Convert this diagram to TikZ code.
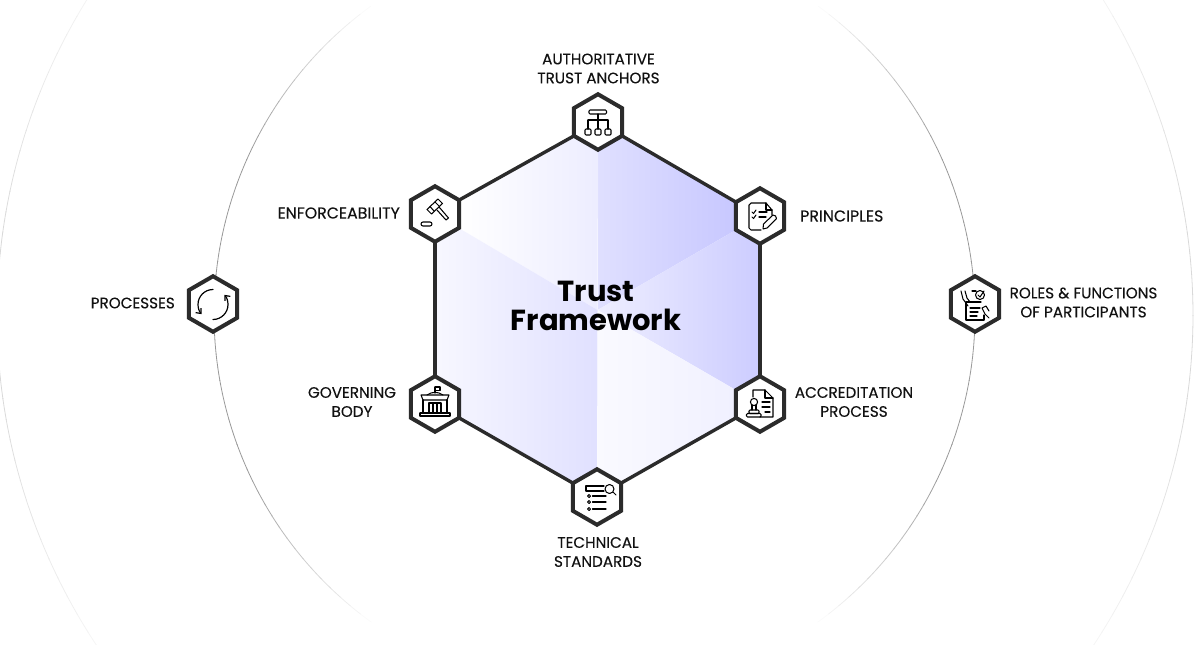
\documentclass[tikz,border=0pt]{standalone}
\usepackage{fontspec}
\setmainfont{Poppins}
\newfontfamily\lblfont{Poppins}[FakeBold=0.25]
\usetikzlibrary{shapes.geometric,arrows.meta}
\definecolor{ink}{HTML}{2B2B2B}
\definecolor{labelink}{HTML}{111111}
\tikzset{
  hexnode/.style={regular polygon,regular polygon sides=6,shape border rotate=30,minimum size=55.5pt,inner sep=0pt,outer sep=0pt,draw=ink,line width=4pt,fill=white,line join=miter},
  edgeline/.style={draw=ink,line width=3.4pt},
  lbl/.style={align=center,inner sep=0pt,text=labelink,font=\lblfont\fontsize{15.2}{19}\selectfont},
  lblwide/.style={lbl,font=\lblfont\fontsize{15.8}{19}\selectfont},
  title/.style={align=center,inner sep=0pt,text=black,font=\fontsize{29}{29.5}\selectfont\bfseries},
  ico/.style={draw=black,line width=1.05pt,line cap=round,line join=round},
}
\begin{document}
\begin{tikzpicture}[x=1pt,y=-1pt]
\useasboundingbox (0,0) rectangle (1200,645);
\clip (0,0) rectangle (1200,645);
\coordinate (pT) at (598,122);
\coordinate (pUR) at (760,216);
\coordinate (pLR) at (760,404);
\coordinate (pB) at (597,497);
\coordinate (pLL) at (435,404);
\coordinate (pUL) at (435,214);
\coordinate (pC) at (597.5,310);
\coordinate (pL) at (213,304);
\coordinate (pR) at (975,304);
% rings
\foreach \a in {-66,-64,...,64}{
  \pgfmathsetmacro{\ma}{abs(\a+1)}
  \pgfmathsetmacro{\t}{max(0,min(1,(54-\ma)/(54-26)))}
  \pgfmathsetmacro{\p}{40*\t}
  \pgfmathsetmacro{\q}{max(3,15*(1-max(0,\ma-8)/34))}
  \draw[black!\p!white,line width=.8pt] ({594.5+380.5*cos(\a)},{314+380.5*sin(\a)}) arc[start angle=\a,delta angle=2.1,radius=380.5];
  \draw[black!\p!white,line width=.8pt] ({594.5-380.5*cos(\a)},{314+380.5*sin(\a)}) arc[start angle=180-\a,delta angle=-2.1,radius=380.5];
  \draw[black!\q!white,line width=.8pt] ({595+598*cos(\a)},{315+598*sin(\a)}) arc[start angle=\a,delta angle=2.1,radius=598];
  \draw[black!\q!white,line width=.8pt] ({595-598*cos(\a)},{315+598*sin(\a)}) arc[start angle=180-\a,delta angle=-2.1,radius=598];
}
% hexagon fill
\begin{scope}
\clip (pC)--(pUL)--(pT)--cycle;
\shade[left color=white,right color=white!92!blue!90!white] (460,122) rectangle (598,310);
\end{scope}
\begin{scope}
\clip (pC)--(pT)--(pUR)--cycle;
\shade[left color=white!87!blue!95!white,right color=white!75!blue!88!white] (598,122) rectangle (740,310);
\end{scope}
\begin{scope}
\clip (pC)--(pUR)--(pLR)--cycle;
\shade[left color=white!93!blue!95!white,right color=white!78!blue!90!white] (598,216) rectangle (760,404);
\end{scope}
\begin{scope}
\clip (pC)--(pLR)--(pB)--cycle;
\shade[left color=white!98!blue,right color=white!94!blue] (598,310) rectangle (740,497);
\end{scope}
\begin{scope}
\clip (pC)--(pB)--(pLL)--(pUL)--cycle;
\shade[left color=white!97!blue,right color=white!88!blue] (435,214) rectangle (598,497);
\end{scope}
% hex nodes
\node[hexnode] (hT) at (pT) {};
\node[hexnode] (hUR) at (pUR) {};
\node[hexnode] (hLR) at (pLR) {};
\node[hexnode] (hB) at (pB) {};
\node[hexnode] (hLL) at (pLL) {};
\node[hexnode] (hUL) at (pUL) {};
\node[hexnode] (hL) at (pL) {};
\node[hexnode] (hR) at (pR) {};
% edges
\draw[edgeline] (hT.-30) -- (hUR.150);
\draw[edgeline] (hUR.-90) -- (hLR.90);
\draw[edgeline] (hLR.-150) -- (hB.30);
\draw[edgeline] (hB.150) -- (hLL.-30);
\draw[edgeline] (hLL.90) -- (hUL.-90);
\draw[edgeline] (hUL.30) -- (hT.-150);
% icon: hierarchy
\begin{scope}[shift={(pT)},ico]
\draw[rounded corners=1pt] (-9,-12) rectangle (8.5,-8);
\draw (0,-8)--(0,7) (-10,-2)--(10,-2) (-10,-2)--(-10,7) (10,-2)--(10,7);
\foreach \x in {-10,0,10}{\draw[rounded corners=1pt] (\x-3,7) rectangle (\x+3,13);}
\end{scope}
% icon: checklist + pencil
\begin{scope}[shift={(pUR)},ico]
\draw (12,-1)--(12,-6)--(6,-13)--(-9,-13) to[bend right=30] (-11,-11) --(-11,12) to[bend right=30] (-9,14)--(1,14);
\draw (6,-13)--(6,-6)--(12,-6);
\draw (-8,-4)--(-6.5,-2.5)--(-4,-6) (-8,1)--(-6.5,2.5)--(-4,-1);
\draw (-1,-4)--(7,-4) (-1,1)--(6,1);
\draw (3,13)--(3.5,8)--(13,-1) to[bend left=50] (16.5,2.5)--(7,12)--cycle;
\end{scope}
% icon: gavel
\begin{scope}[shift={(pUL)},ico]
\draw (-8,-4.5)--(3,-15)--(7.5,-10.5)--(-3.5,0)--cycle;
\draw (-5,-7.5)--(-1,-3) (0,-12)--(4.5,-7.5);
\draw (2,-4)--(11,6)--(13.5,4)--(4.5,-6.5);
\draw[rounded corners=2pt] (-14,8) rectangle (-3,12);
\end{scope}
% icon: government building
\begin{scope}[shift={(pLL)},ico]
\draw (0,-17)--(0,-11) (0,-17)--(5,-17)--(5,-13.5)--(0,-13.5);
\draw (-8,-9) to[bend left=35] (8,-9);
\draw (-14,-9)--(14,-9)--(12,-4)--(-12,-4)--cycle;
\draw (-12,-4)--(-12,9) (12,-4)--(12,9);
\draw (-6,-1) rectangle (6,9) (-2,-1)--(-2,9) (2,-1)--(2,9);
\draw (-15,9)--(15,9) (-15,12)--(15,12) (-15,9)--(-15,12) (15,9)--(15,12);
\end{scope}
% icon: stamped document
\begin{scope}[shift={(pLR)},ico]
\draw (-7,-7)--(-7,-14)--(5,-14)--(13,-6)--(13,13)--(0,13);
\draw (5,-14)--(5,-6)--(13,-6);
\draw (2,-2)--(10,-2) (2,3)--(10,3) (5,8)--(10,8);
\draw (-6,-2) circle[radius=3.6];
\draw (-8,1)--(-8,6) (-4,1)--(-4,6);
\draw[rounded corners=1pt] (-11,6) rectangle (-1,9.5);
\draw[rounded corners=1pt] (-13.5,9.5) rectangle (1,13);
\end{scope}
% icon: list + magnifier
\begin{scope}[shift={(pB)},ico]
\draw (7,-11)--(-11,-11)--(-11,-6)--(7,-6);
\draw (12.5,-8) circle[radius=4.5];
\draw (16,-5)--(19,-2);
\foreach \y in {-1,5,12}{\draw (-8,\y) circle[radius=1.5]; \draw (-4.5,\y)--(9,\y);}
\end{scope}
% icon: cycle
\begin{scope}[shift={(pL)},ico,line width=1.2pt]
\draw[-{Straight Barb[length=4pt,width=7pt]}] (0,-14.5) arc[start angle=-90,delta angle=-130,radius=15];
\draw[-{Straight Barb[length=4pt,width=7pt]}] (0,15.5) arc[start angle=90,delta angle=-130,radius=15];
\end{scope}
% icon: hands holding list
\begin{scope}[shift={(pR)},ico]
\draw (-9,-2)--(-9,16)--(9,16)--(9,11);
\draw (-9,-2)--(6,-2);
\draw (-5,4)--(5,4) (-5,8)--(3,8) (-5,12)--(2,12);
\draw (-3,-13)--(1,-13);
\draw (5,-9) circle[radius=4.5];
\draw (3,-9)--(5,-7)--(9,-13);
\draw (-14,-13)--(-12,-5)--(-7,2) (-10,-13)--(-8,-6)--(-5,-2);
\draw (14,7)--(11,2)--(7,4)--(10,10)--(14,14);
\end{scope}
% labels
\node[lbl] (tT) at (598.5,68.5) {AUTHORITATIVE\\TRUST ANCHORS};
\node[lblwide,anchor=east] (tUL) at (400,213) {ENFORCEABILITY};
\node[lblwide,anchor=west] (tUR) at (800,216) {PRINCIPLES};
\node[lbl,anchor=east] (tL) at (175,303) {PROCESSES};
\node[lbl] (tR) at (1083.5,302.5) {ROLES \& FUNCTIONS\\OF PARTICIPANTS};
\node[lbl] (tLL) at (352,402) {GOVERNING\\BODY};
\node[lbl] (tLR) at (854,402) {ACCREDITATION\\PROCESS};
\node[lbl] (tB) at (598,552) {TECHNICAL\\STANDARDS};
\node[title] (tC) at (596,306) {Trust\\Framework};
\end{tikzpicture}
\end{document}
